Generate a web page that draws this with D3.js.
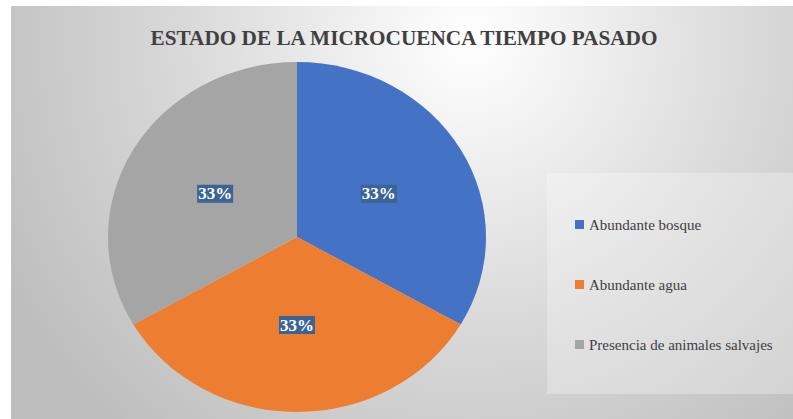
<!DOCTYPE html>
<html><head><meta charset="utf-8">
<script src="https://cdn.jsdelivr.net/npm/d3@7"></script>
<style>html,body{margin:0;padding:0;background:#fff;}svg{display:block;} text{font-family:'Liberation Serif', serif;}</style>
</head><body>
<svg id="chart" width="793" height="419"></svg>
<script>
const title = "ESTADO DE LA MICROCUENCA TIEMPO PASADO";
const categories = ["Abundante bosque", "Abundante agua", "Presencia de animales salvajes"];
const values = [1, 1, 1];
const labels = ["33%", "33%", "33%"];
const colors = ["#4472C4", "#ED7D31", "#A5A5A5"];

const svg = d3.select("#chart");
const defs = svg.append("defs");
const grad = defs.append("radialGradient").attr("id", "bg")
  .attr("gradientUnits", "userSpaceOnUse")
  .attr("cx", 470).attr("cy", 40).attr("r", 520);
grad.append("stop").attr("offset", 0).attr("stop-color", "#ffffff");
grad.append("stop").attr("offset", 0.55).attr("stop-color", "#d9d9d9");
grad.append("stop").attr("offset", 1).attr("stop-color", "#bebebe");

svg.append("rect").attr("x", 11).attr("y", 6).attr("width", 782).attr("height", 413)
  .attr("fill", "url(#bg)");

svg.append("text").attr("x", 404).attr("y", 45).attr("text-anchor", "middle")
  .style("font-weight", "bold").style("font-size", "20.5px").attr("fill", "#404040")
  .attr("textLength", 507).attr("lengthAdjust", "spacingAndGlyphs")
  .text(title);

// pie (ellipse: rx 189, ry 175)
const cx = 297, cy = 237, ry = 175, sx = 189 / 175;
const pie = d3.pie().sort(null).value(d => d)(values);
const arc = d3.arc().innerRadius(0).outerRadius(ry);
const g = svg.append("g").attr("transform", `translate(${cx},${cy}) scale(${sx},1)`);
g.selectAll("path").data(pie).join("path")
  .attr("d", arc).attr("fill", (d, i) => colors[i]);

const labelArc = d3.arc().innerRadius(ry * 0.5).outerRadius(ry * 0.5);
const lg = svg.append("g").attr("transform", `translate(${cx},${cy})`);
pie.forEach((d, i) => {
  const [x, y] = labelArc.centroid(d);
  const px = x * sx, py = y;
  lg.append("rect").attr("x", px - 18).attr("y", py - 8.5)
    .attr("width", 36).attr("height", 18).attr("fill", "#3A6396");
  lg.append("text").attr("x", px).attr("y", py + 6)
    .attr("text-anchor", "middle")
    .style("font-weight", "bold").style("font-size", "17px").attr("fill", "#ffffff")
    .text(labels[i]);
});

// legend
svg.append("rect").attr("x", 547).attr("y", 173).attr("width", 246).attr("height", 221)
  .attr("fill", "#ffffff").attr("fill-opacity", 0.28);
const ly = d3.scalePoint().domain(categories).range([225, 345]);
const leg = svg.append("g");
categories.forEach((c, i) => {
  leg.append("rect").attr("x", 575).attr("y", ly(c) - 5).attr("width", 9).attr("height", 9)
    .attr("fill", colors[i]);
  leg.append("text").attr("x", 589).attr("y", ly(c) + 5)
    .style("font-size", "15px").attr("fill", "#404040").text(c);
});
</script>
</body></html>
